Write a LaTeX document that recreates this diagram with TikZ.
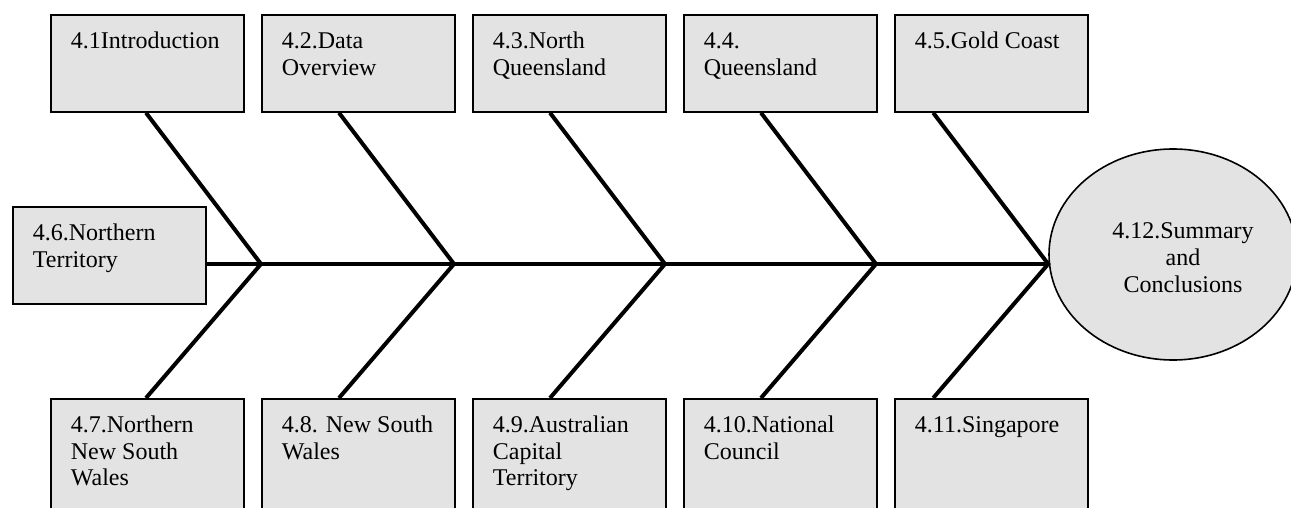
\documentclass[tikz,border=0pt]{standalone}
\usepackage{fontspec}
\setmainfont{Liberation Serif}
\usetikzlibrary{calc,shapes.geometric}
\definecolor{boxgray}{RGB}{227,227,227}
% text block inside a box: first baseline 34pt below the top edge
\newcommand{\boxtext}[2][97pt]{\parbox[t][#1][t]{153pt}{\raggedright\rule{0pt}{34pt}#2}}

\begin{document}
\begin{tikzpicture}[x=1pt,y=-1pt,
  font=\fontsize{24}{26.5}\selectfont,
  box/.style={draw, line width=1.8pt, fill=boxgray, inner xsep=20pt, inner ysep=0pt, anchor=north west},
  bone/.style={line width=4pt, line join=miter}]
\useasboundingbox (0,0) rectangle (1291,508);
\clip (0,0) rectangle (1291,508);

% upper row of causes
\node (t1) [box] at (50,14)  {\boxtext{4.1Introduction}};
\node (t2) [box] at (261,14) {\boxtext{4.2.Data\\Overview}};
\node (t3) [box] at (472,14) {\boxtext{4.3.North\\Queensland}};
\node (t4) [box] at (683,14) {\boxtext{4.4.\\Queensland}};
\node (t5) [box] at (894,14) {\boxtext{4.5.Gold Coast}};

% lower row of causes
\node (b1) [box] at (50,398)  {\boxtext[120pt]{4.7.Northern\\New South\\Wales}};
\node (b2) [box] at (261,398) {\boxtext[120pt]{4.8. New South\\Wales}};
\node (b3) [box] at (472,398) {\boxtext[120pt]{4.9.Australian\\Capital\\Territory}};
\node (b4) [box] at (683,398) {\boxtext[120pt]{4.10.National\\Council}};
\node (b5) [box] at (894,398) {\boxtext[120pt]{4.11.Singapore}};

% tail box
\node (l) [box] at (12,206) {\boxtext{4.6.Northern\\Territory}};

% head
\node (e) [ellipse, draw, line width=1.6pt, fill=boxgray, minimum width=248pt,
  minimum height=211pt, inner sep=0pt] at (1173,254.5) {};
\node (etxt) [anchor=north, align=center, inner sep=0pt,
  font=\fontsize{24}{27}\selectfont] at (1183,218)
  {\rule{0pt}{20pt}4.12.Summary\\and\\Conclusions};

% junctions on the spine
\coordinate (j1) at (261,264);
\coordinate (j2) at (454,264);
\coordinate (j3) at (665,264);
\coordinate (j4) at (876,264);
\coordinate (j5) at (e.west |- j1);

% spine
\draw[bone] (l.east |- j1) -- (j5);

% bones: each pair meets the spine at its junction
\foreach \i in {1,...,5}{
  \coordinate (a\i) at ($(j\i)+(-115,0)$);
  \draw[bone] (a\i |- t\i.south) -- (j\i) -- (a\i |- b\i.north);
}
\end{tikzpicture}
\end{document}
